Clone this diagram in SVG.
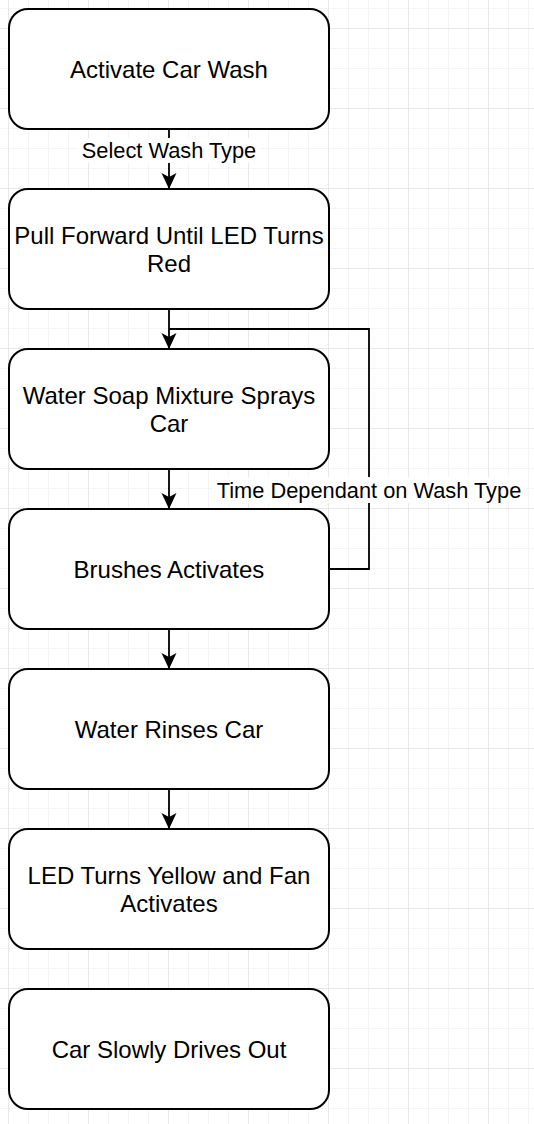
<svg xmlns="http://www.w3.org/2000/svg" width="534" height="1124" viewBox="0 0 534 1124">
  <style>
    .node rect { fill: #ffffff; stroke: #000000; stroke-width: 2; }
    .node text { font-family: "Liberation Sans", Arial, Helvetica, sans-serif; font-size: 24px; fill: #000000; text-anchor: middle; }
    .edge { fill: none; stroke: #000000; stroke-width: 1.8; }
    .lbl { font-family: "Liberation Sans", Arial, Helvetica, sans-serif; font-size: 21.8px; fill: #000000; text-anchor: middle; }
    .lblbg { fill: #ffffff; }
  </style>
  <defs>
    <pattern id="minor" x="8" y="8" width="20" height="20" patternUnits="userSpaceOnUse">
      <path d="M0,0.5 H20 M0.5,0 V20" fill="none" stroke="#f4f4f4" stroke-width="1"/>
    </pattern>
    <pattern id="major" x="8" y="28" width="80" height="80" patternUnits="userSpaceOnUse">
      <path d="M0,0.5 H80 M0.5,0 V80" fill="none" stroke="#e8e8e8" stroke-width="1"/>
    </pattern>
    <marker id="arrow" viewBox="0 0 16 16" refX="16" refY="8" markerWidth="16" markerHeight="16" markerUnits="userSpaceOnUse" orient="auto">
      <path d="M16,8 L0,0.5 L4,8 L0,15.5 Z" fill="#000000" stroke="none"/>
    </marker>
  </defs>
  <rect x="0" y="0" width="534" height="1124" fill="#ffffff"/>
  <rect x="0" y="0" width="534" height="1124" fill="url(#minor)"/>
  <rect x="0" y="0" width="534" height="1124" fill="url(#major)"/>

  <g id="connectors">
    <path class="edge" d="M169,129 V189" marker-end="url(#arrow)"/>
    <path class="edge" d="M169,309 V349" marker-end="url(#arrow)"/>
    <path class="edge" d="M169,469 V509" marker-end="url(#arrow)"/>
    <path class="edge" d="M169,629 V669" marker-end="url(#arrow)"/>
    <path class="edge" d="M169,789 V829" marker-end="url(#arrow)"/>
    <path class="edge" d="M329,569 H369 V329 H169"/>
    <rect class="lblbg" x="78" y="138" width="182" height="25"/>
    <text class="lbl" x="169" y="158">Select Wash Type</text>
    <rect class="lblbg" x="212" y="477" width="314" height="26"/>
    <text class="lbl" x="369" y="498">Time Dependant on Wash Type</text>
  </g>

  <g id="node-activate" class="node">
    <rect x="9" y="9" width="320" height="120" rx="19" ry="19"/>
    <text x="169" y="77.5">Activate Car Wash</text>
  </g>
  <g id="node-pull-forward" class="node">
    <rect x="9" y="189" width="320" height="120" rx="19" ry="19"/>
    <text x="169" y="243.5">Pull Forward Until LED Turns</text>
    <text x="169" y="271.5">Red</text>
  </g>
  <g id="node-soap" class="node">
    <rect x="9" y="349" width="320" height="120" rx="19" ry="19"/>
    <text x="169" y="403.5">Water Soap Mixture Sprays</text>
    <text x="169" y="431.5">Car</text>
  </g>
  <g id="node-brushes" class="node">
    <rect x="9" y="509" width="320" height="120" rx="19" ry="19"/>
    <text x="169" y="577.5">Brushes Activates</text>
  </g>
  <g id="node-rinse" class="node">
    <rect x="9" y="669" width="320" height="120" rx="19" ry="19"/>
    <text x="169" y="737.5">Water Rinses Car</text>
  </g>
  <g id="node-fan" class="node">
    <rect x="9" y="829" width="320" height="120" rx="19" ry="19"/>
    <text x="169" y="883.5">LED Turns Yellow and Fan</text>
    <text x="169" y="911.5">Activates</text>
  </g>
  <g id="node-drive-out" class="node">
    <rect x="9" y="989" width="320" height="120" rx="19" ry="19"/>
    <text x="169" y="1057.5">Car Slowly Drives Out</text>
  </g>
</svg>
